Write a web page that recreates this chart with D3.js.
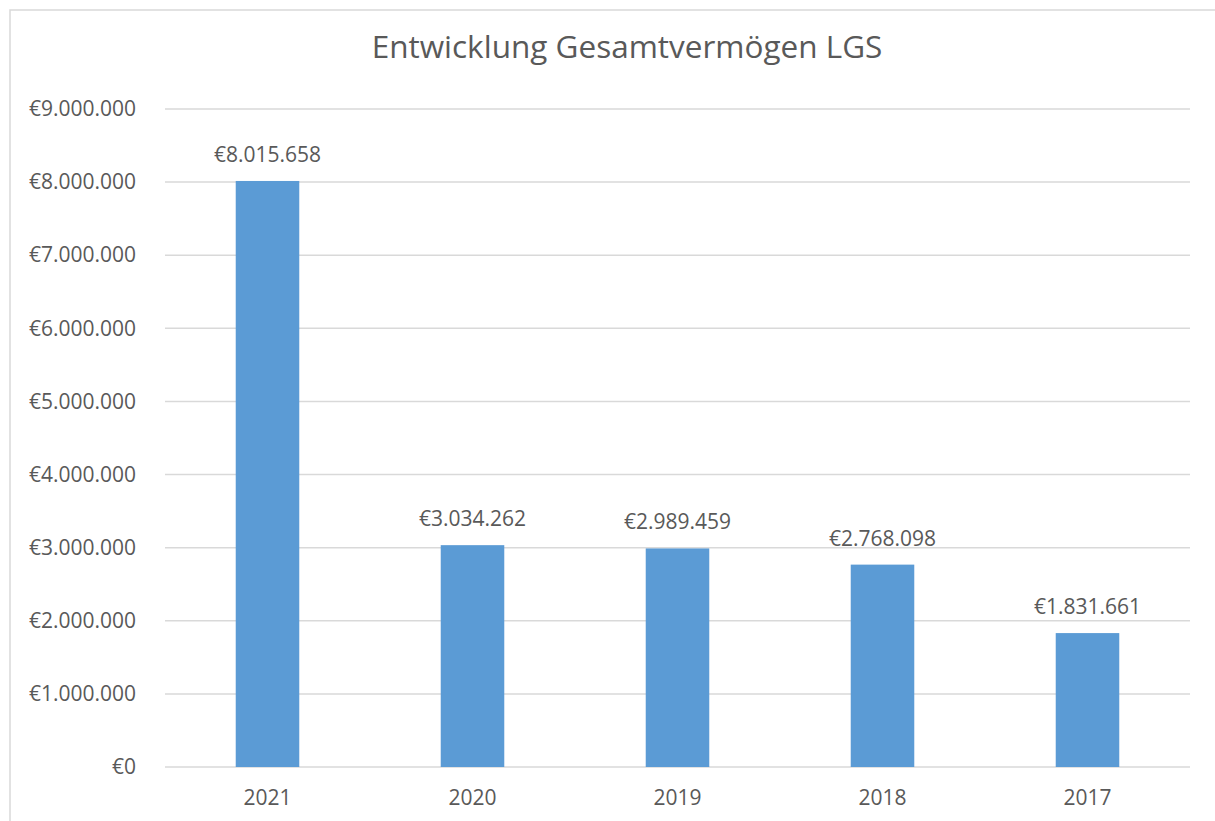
<!DOCTYPE html>
<html>
<head>
<meta charset="utf-8">
<script src="https://cdn.jsdelivr.net/npm/d3@7"></script>
<style>
  body { margin: 0; background: #fff; }
  text { font-family: "Open Sans", sans-serif; fill: #595959; }
</style>
</head>
<body>
<svg id="chart" width="1215" height="821"></svg>
<script>
const years = ["2021", "2020", "2019", "2018", "2017"];
const values = [8015658, 3034262, 2989459, 2768098, 1831661];
const yTicks = [0, 1000000, 2000000, 3000000, 4000000, 5000000, 6000000, 7000000, 8000000, 9000000];

const svg = d3.select("#chart");
const margin = { left: 165, right: 25, top: 109, bottom: 54 };
const width = 1215, height = 821;

// german style euro format
const fmt = v => "€" + d3.format(",")(v).replace(/,/g, ".");

// outer frame
svg.append("rect")
  .attr("x", 10).attr("y", 10)
  .attr("width", 1230).attr("height", 830)
  .attr("fill", "none")
  .attr("stroke", "#d9d9d9")
  .attr("stroke-width", 1.5);

const x = d3.scaleBand()
  .domain(years)
  .range([margin.left, width - margin.right])
  .paddingInner(0.69)
  .paddingOuter(0.345);

const y = d3.scaleLinear()
  .domain([0, 9000000])
  .range([height - margin.bottom, margin.top]);

// gridlines
svg.append("g")
  .selectAll("line")
  .data(yTicks)
  .join("line")
  .attr("x1", margin.left)
  .attr("x2", width - margin.right)
  .attr("y1", d => y(d))
  .attr("y2", d => y(d))
  .attr("stroke", "#d9d9d9")
  .attr("stroke-width", 1.5);

// y axis labels
const yAxis = svg.append("g")
  .attr("transform", `translate(${margin.left - 29},0)`)
  .call(d3.axisLeft(y).tickValues(yTicks).tickFormat(fmt).tickSize(0).tickPadding(0));
yAxis.select(".domain").remove();
yAxis.selectAll("text")
  .attr("font-size", "21px")
  .attr("font-family", "Open Sans, sans-serif")
  .attr("fill", "#595959");

// bars
svg.append("g")
  .selectAll("rect")
  .data(values)
  .join("rect")
  .attr("x", (d, i) => x(years[i]))
  .attr("width", x.bandwidth())
  .attr("y", d => y(d))
  .attr("height", d => y(0) - y(d))
  .attr("fill", "#5b9bd5");

// value labels
svg.append("g")
  .selectAll("text")
  .data(values)
  .join("text")
  .attr("x", (d, i) => x(years[i]) + x.bandwidth() / 2)
  .attr("y", d => y(d) - 19)
  .attr("text-anchor", "middle")
  .attr("font-size", "21px")
  .text(d => fmt(d));

// x axis labels
const xAxis = svg.append("g")
  .attr("transform", `translate(0,${height - margin.bottom + 23})`)
  .call(d3.axisBottom(x).tickSize(0).tickPadding(0));
xAxis.select(".domain").remove();
xAxis.selectAll("text")
  .attr("font-size", "21px")
  .attr("font-family", "Open Sans, sans-serif")
  .attr("fill", "#595959");

// title
svg.append("text")
  .attr("x", 627)
  .attr("y", 58)
  .attr("text-anchor", "middle")
  .attr("font-size", "31.5px")
  .text("Entwicklung Gesamtvermögen LGS");
</script>
</body>
</html>
